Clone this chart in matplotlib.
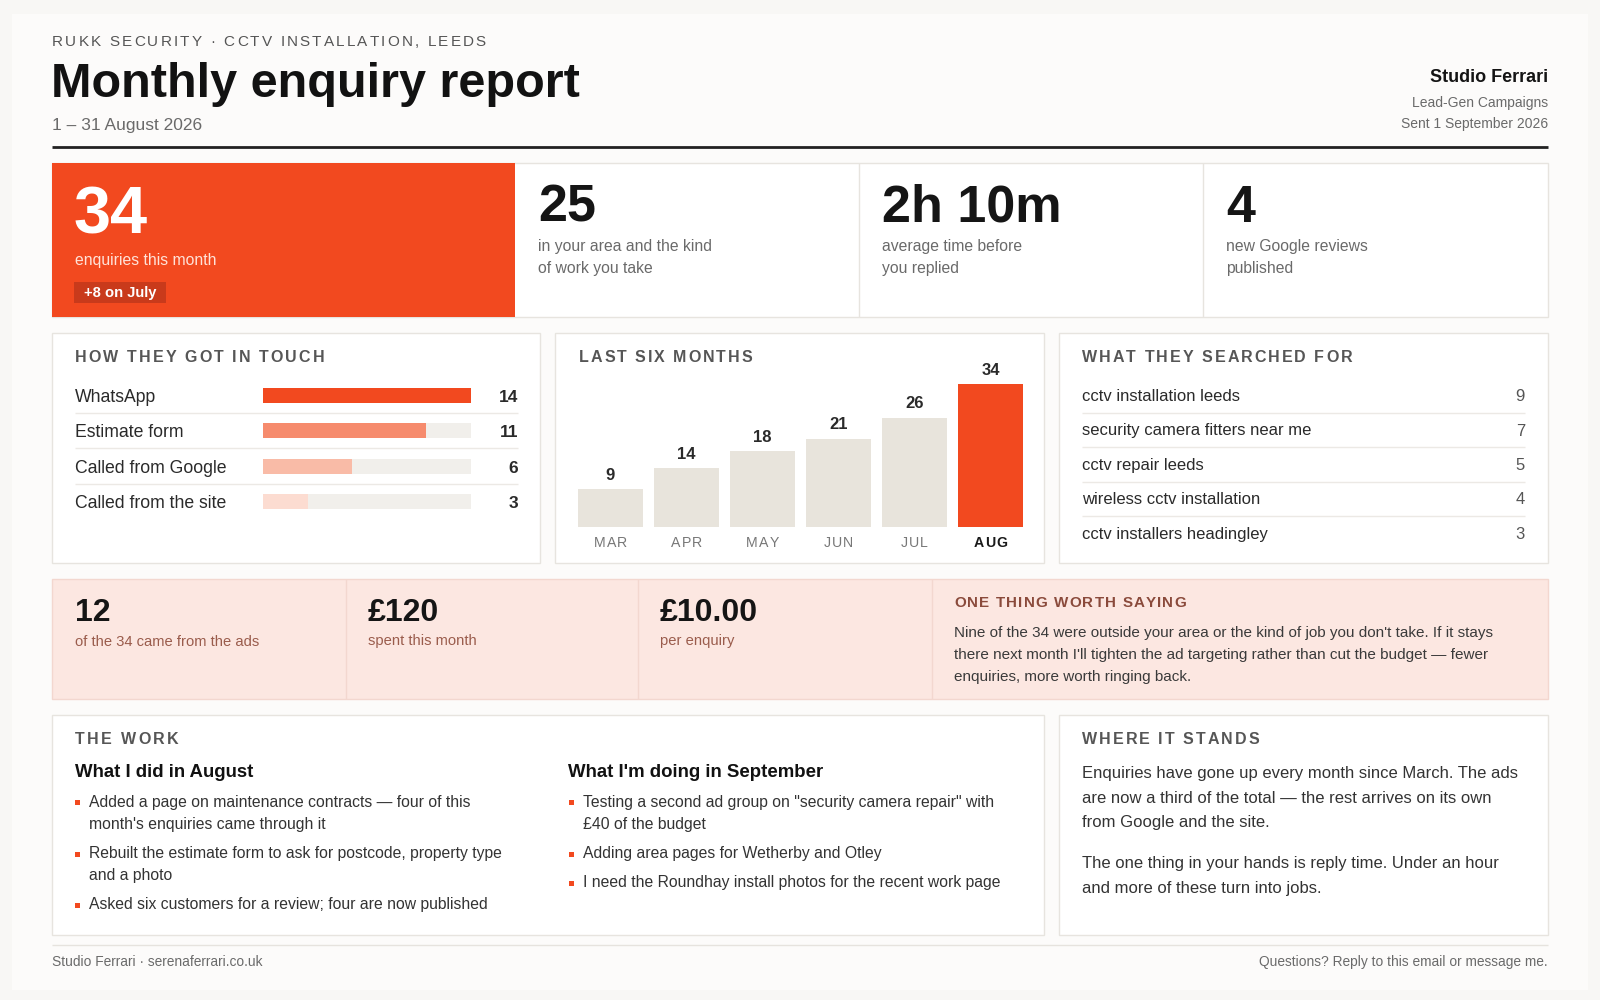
import matplotlib
matplotlib.use('Agg')
import matplotlib.pyplot as plt
from matplotlib.patches import Rectangle
from matplotlib.font_manager import FontProperties, findfont
from matplotlib.ft2font import FT2Font

# ---------------- data ----------------
header_kicker = 'RUKK SECURITY · CCTV INSTALLATION, LEEDS'
title = 'Monthly enquiry report'
period = '1 – 31 August 2026'
agency = 'Studio Ferrari'
agency_lines = ['Lead-Gen Campaigns', 'Sent 1 September 2026']

kpi_values = ['34', '25', '2h 10m', '4']
kpi_labels = [['enquiries this month'],
              ['in your area and the kind', 'of work you take'],
              ['average time before', 'you replied'],
              ['new Google reviews', 'published']]
kpi_badge = '+8 on July'

channels = ['WhatsApp', 'Estimate form', 'Called from Google', 'Called from the site']
channel_counts = [14, 11, 6, 3]

months = ['MAR', 'APR', 'MAY', 'JUN', 'JUL', 'AUG']
month_counts = [9, 14, 18, 21, 26, 34]

search_terms = ['cctv installation leeds', 'security camera fitters near me',
                'cctv repair leeds', 'wireless cctv installation',
                'cctv installers headingley']
search_counts = [9, 7, 5, 4, 3]

ads_values = ['12', '£120', '£10.00']
ads_labels = ['of the 34 came from the ads', 'spent this month', 'per enquiry']

note_title = 'ONE THING WORTH SAYING'
note_lines = ["Nine of the 34 were outside your area or the kind of job you don't take. If it stays",
              "there next month I'll tighten the ad targeting rather than cut the budget — fewer",
              "enquiries, more worth ringing back."]

work_title = 'THE WORK'
did_title = 'What I did in August'
did_items = [["Added a page on maintenance contracts — four of this",
              "month's enquiries came through it"],
             ["Rebuilt the estimate form to ask for postcode, property type",
              "and a photo"],
             ["Asked six customers for a review; four are now published"]]
doing_title = "What I'm doing in September"
doing_items = [['Testing a second ad group on "security camera repair" with',
                '£40 of the budget'],
               ['Adding area pages for Wetherby and Otley'],
               ['I need the Roundhay install photos for the recent work page']]

stands_title = 'WHERE IT STANDS'
stands_paras = [['Enquiries have gone up every month since March. The ads',
                 'are now a third of the total — the rest arrives on its own',
                 'from Google and the site.'],
                ['The one thing in your hands is reply time. Under an hour',
                 'and more of these turn into jobs.']]

footer_left = 'Studio Ferrari · serenaferrari.co.uk'
footer_right = 'Questions? Reply to this email or message me.'

# ---------------- style ----------------
FAM = 'Liberation Sans'
W, H = 1600, 1000
ORANGE = '#F2491F'
BADGE = '#C93A1B'
BORDER = '#E7E4DF'
SEP = '#ECE9E5'
DARK = '#151515'
TEXT = '#2A2A2A'
MUTED = '#6A6A6A'
HEAD = '#565656'
PINK = '#FCE7E1'
PINK_EDGE = '#F3D7CF'
BROWN = '#9A5C4C'
BROWN_HEAD = '#8A4A3B'
channel_colors = ['#F2491F', '#F68B6D', '#F9BBA7', '#FCDCD1']
TRACK = '#F1EFEB'
MONTH_BAR = '#E8E4DC'

fig = plt.figure(figsize=(16, 10), dpi=100)
fig.patch.set_facecolor('#F8F7F5')
ax = fig.add_axes([0, 0, 1, 1])
ax.set_xlim(0, W)
ax.set_ylim(H, 0)
ax.axis('off')

_fonts = {}


def _font(weight):
    if weight not in _fonts:
        _fonts[weight] = FT2Font(findfont(FontProperties(family=FAM, weight=weight)))
    return _fonts[weight]


def advances(s, size, weight):
    f = _font(weight)
    f.set_size(size, 100)
    out = []
    for ch in s:
        g = f.load_char(ord(ch))
        out.append(g.linearHoriAdvance / 65536)
    return out


def tracked(x, y, s, size, color, weight='normal', width=None, track=0.0, ha='left'):
    a = advances(s, size, weight)
    n = len(s)
    nat = sum(a)
    if width is not None and n > 1:
        track = (width - nat) / (n - 1)
    total = nat + track * (n - 1)
    x0 = x - total if ha == 'right' else (x - total / 2 if ha == 'center' else x)
    cx = x0
    for ch, w in zip(s, a):
        if ch != ' ':
            ax.text(cx + w / 2, y, ch, fontsize=size, color=color, fontweight=weight,
                    family=FAM, ha='center', va='baseline')
        cx += w + track


def txt(x, y, s, size, color, weight='normal', ha='left'):
    ax.text(x, y, s, fontsize=size, color=color, fontweight=weight, family=FAM,
            ha=ha, va='baseline')


def rect(x0, y0, x1, y1, fc, ec=None, lw=1.0, z=1):
    ax.add_patch(Rectangle((x0, y0), x1 - x0, y1 - y0, facecolor=fc,
                           edgecolor=ec if ec else 'none', linewidth=lw, zorder=z))


def hline(x0, x1, y, color, lw=1.0):
    ax.plot([x0, x1], [y, y], color=color, lw=lw, solid_capstyle='butt', zorder=2)


def vline(x, y0, y1, color, lw=1.0):
    ax.plot([x, x], [y0, y1], color=color, lw=lw, solid_capstyle='butt', zorder=2)


# page
rect(12, 14, 1588, 990, '#FCFBFA', z=0)

L, R = 52, 1548

# ---------------- header ----------------
tracked(L, 46, header_kicker, 11, '#555555', width=434)
txt(L - 1, 97, title, 35, '#121212', weight='bold')
txt(L, 130, period, 12.5, MUTED)
txt(R, 82, agency, 13, '#141414', weight='bold', ha='right')
for i, s in enumerate(agency_lines):
    txt(R, 107 + 21 * i, s, 10, MUTED, ha='right')
hline(L, R, 147, '#222222', lw=2)

# ---------------- KPI row ----------------
kt, kb = 163, 317
kx = [52, 515, 859, 1203, 1548]
rect(kx[0], kt, kx[-1], kb, 'white', BORDER)
rect(kx[0], kt, kx[1], kb, ORANGE)
for xv in kx[2:4]:
    vline(xv, kt, kb, BORDER)
txt(74, 233.5, kpi_values[0], 48, 'white', weight='bold')
txt(75, 265, kpi_labels[0][0], 11.3, '#FFE2D8')
rect(74, 282, 166, 303, BADGE)
txt(84, 297.5, kpi_badge, 10.6, 'white', weight='bold')
for i in range(1, 4):
    x = kx[i] + 23
    txt(x, 222, kpi_values[i], 37.5, DARK, weight='bold')
    for j, s in enumerate(kpi_labels[i]):
        txt(x, 251.5 + 21.5 * j, s, 11.3, MUTED)

# ---------------- middle row panels ----------------
mt, mb = 333, 563
panels = [(52, 540), (555, 1044), (1059, 1548)]
for x0, x1 in panels:
    rect(x0, mt, x1, mb, 'white', BORDER)
tracked(75, 362, 'HOW THEY GOT IN TOUCH', 11.5, HEAD, weight='bold', width=249)
tracked(579, 362, 'LAST SIX MONTHS', 11.5, HEAD, weight='bold', width=173)
tracked(1082, 362, 'WHAT THEY SEARCHED FOR', 11.5, HEAD, weight='bold', width=270)

# channels
cx0, cx1 = 263, 471
row0, rowh = 377.5, 35.5
axc = fig.add_axes([cx0 / W, 1 - (row0 + 4 * rowh) / H, (cx1 - cx0) / W, 4 * rowh / H])
cmax = max(channel_counts)
axc.barh(range(len(channels)), [cmax] * len(channels), height=15 / rowh, color=TRACK)
axc.barh(range(len(channels)), channel_counts, height=15 / rowh, color=channel_colors)
axc.set_xlim(0, cmax)
axc.set_ylim(len(channels) - 0.5, -0.5)
axc.axis('off')
axc.patch.set_alpha(0)
for i, (name, v) in enumerate(zip(channels, channel_counts)):
    yc = row0 + rowh * (i + 0.5)
    txt(75, yc + 6.3, name, 12.7, TEXT)
    txt(518, yc + 6.3, str(v), 12.5, TEXT, weight='bold', ha='right')
    if i < len(channels) - 1:
        hline(75, 518, yc + 17.7, SEP)

# months bar chart
bx0, bpitch, bw = 578, 76, 65
base_y = 526.7
px_per = 4.2
ymax = 38
axb = fig.add_axes([(bx0 - (bpitch - bw) / 2) / W, 1 - base_y / H,
                    len(months) * bpitch / W, ymax * px_per / H])
bar_colors = [MONTH_BAR] * (len(months) - 1) + [ORANGE]
axb.bar(range(len(months)), month_counts, width=bw / bpitch, color=bar_colors)
axb.set_xlim(-0.5, len(months) - 0.5)
axb.set_ylim(0, ymax)
axb.axis('off')
axb.patch.set_alpha(0)
for i, v in enumerate(month_counts):
    axb.annotate(str(v), (i, v), xytext=(0, 4.5), textcoords='offset points',
                 ha='center', va='bottom', fontsize=12, fontweight='bold',
                 color=TEXT, family=FAM)
for i, m in enumerate(months):
    last = i == len(months) - 1
    tracked(bx0 + bw / 2 + i * bpitch, 547, m, 10.2,
            '#1A1A1A' if last else '#777777',
            weight='bold' if last else 'normal', track=0.9, ha='center')

# search terms
srow0, srowh = 401, 34.5
for i, (term, v) in enumerate(zip(search_terms, search_counts)):
    yb = srow0 + srowh * i
    txt(1082, yb, term, 12, TEXT)
    txt(1525, yb, str(v), 12, '#555555', ha='right')
    if i < len(search_terms) - 1:
        hline(1082, 1525, yb + 11.7, SEP)

# ---------------- ads row ----------------
at, ab = 578.5, 699
rect(L, at, R, ab, PINK, PINK_EDGE)
ax_div = [346, 638, 932]
for xv in ax_div:
    vline(xv, at, ab, PINK_EDGE)
ads_x = [75, 368, 660]
for x, v, lab in zip(ads_x, ads_values, ads_labels):
    txt(x, 621, v, 23, DARK, weight='bold')
    txt(x, 645.5, lab, 10.6, BROWN)
tracked(954, 606.7, note_title, 10.9, BROWN_HEAD, weight='bold', width=232)
for j, s in enumerate(note_lines):
    txt(954, 636.7 + 22.4 * j, s, 11, '#3A3A3A')

# ---------------- bottom row ----------------
bt, bb = 715, 935
rect(52, bt, 1044, bb, 'white', BORDER)
rect(1059, bt, 1548, bb, 'white', BORDER)
tracked(75, 744, work_title, 11.5, HEAD, weight='bold', width=103)
tracked(1082, 744, stands_title, 11.5, HEAD, weight='bold', width=177)


def bullets(x_title, x_b, x_t, y0, title_s, items):
    txt(x_title, 777, title_s, 13.4, '#111111', weight='bold')
    y = y0
    for item in items:
        rect(x_b - 2.5, y - 6.5, x_b + 2.5, y - 1.5, ORANGE, z=3)
        for line in item:
            txt(x_t, y, line, 11.3, '#333333')
            y += 22
        y += 7.5


bullets(75, 77, 89, 806.5, did_title, did_items)
bullets(568, 571, 583, 806.5, doing_title, doing_items)

y = 778
for para in stands_paras:
    for line in para:
        txt(1082, y, line, 12, '#333333')
        y += 24.7
    y += 16

# ---------------- footer ----------------
hline(L, R, 945, '#E6E3DE')
txt(L, 966, footer_left, 9.9, MUTED)
txt(R, 966, footer_right, 9.9, MUTED, ha='right')

fig.savefig('out.png', dpi=100, facecolor=fig.get_facecolor())
